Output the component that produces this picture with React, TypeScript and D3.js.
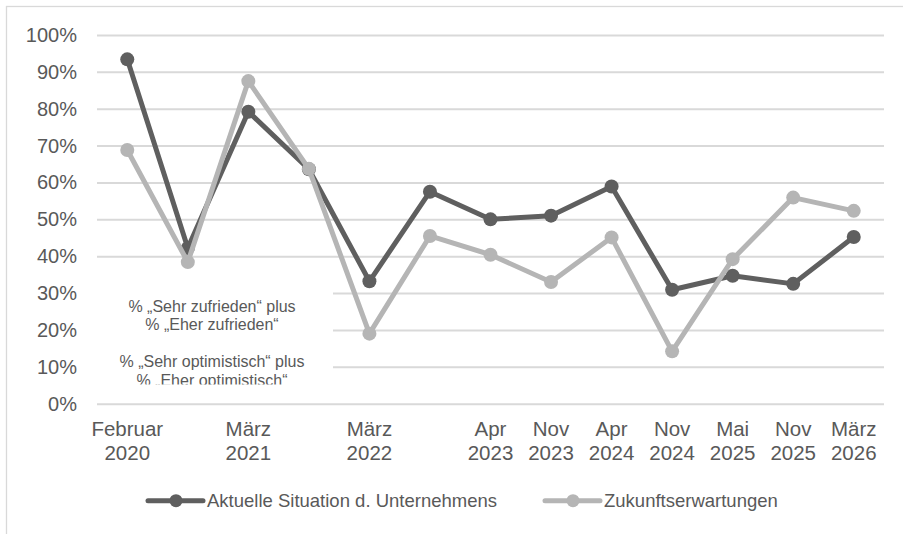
import * as d3 from "d3";
import { useRef, useEffect } from "react";

// Kategorien (Monat / Jahr), leere Einträge = ohne Beschriftung
const months = ["Februar", "", "März", "", "März", "", "Apr", "Nov", "Apr", "Nov", "Mai", "Nov", "März"];
const years = ["2020", "", "2021", "", "2022", "", "2023", "2023", "2024", "2024", "2025", "2025", "2026"];

// Werte in %
const aktuelleSituation = [93.4, 42.2, 79.2, 63.6, 33.2, 57.5, 50.0, 51.0, 58.9, 30.9, 34.7, 32.5, 45.2];
const zukunftserwartungen = [68.8, 38.4, 87.5, 63.7, 19.0, 45.5, 40.4, 33.0, 45.1, 14.2, 39.2, 55.9, 52.3];

const yTicks = [0, 10, 20, 30, 40, 50, 60, 70, 80, 90, 100];

const seriesNames = ["Aktuelle Situation d. Unternehmens", "Zukunftserwartungen"];

const noteLines = [
  "% „Sehr zufrieden“ plus",
  "% „Eher zufrieden“",
  "",
  "% „Sehr optimistisch“ plus",
  "% „Eher optimistisch“",
];

export default function App() {
  const svgRef = useRef<SVGSVGElement>(null);
  const W = 903;
  const H = 534;

  useEffect(() => {
    if (!svgRef.current) return;
    const svg = d3.select(svgRef.current);
    svg.selectAll("*").remove();

    const font = "'Liberation Sans', Arial, sans-serif";
    const textColor = "#595959";
    const gridColor = "#d9d9d9";
    const colors = ["#5f5f5f", "#b5b5b5"];

    // Rahmen
    svg
      .append("rect")
      .attr("x", 6.5)
      .attr("y", 6.5)
      .attr("width", W + 10)
      .attr("height", H + 10)
      .attr("fill", "#fff")
      .attr("stroke", gridColor)
      .attr("stroke-width", 1.3);

    const x = d3
      .scaleBand<number>()
      .domain(d3.range(months.length))
      .range([97, 884])
      .padding(0);
    const cx = (i: number) => (x(i) as number) + x.bandwidth() / 2;

    const y = d3.scaleLinear().domain([0, 100]).range([403.7, 35]);

    // Gitternetz + y-Achse
    const yAxis = svg
      .append("g")
      .attr("transform", "translate(97,0)")
      .call(
        d3
          .axisLeft(y)
          .tickValues(yTicks)
          .tickSize(-(884 - 97))
          .tickPadding(20)
          .tickFormat((d) => `${d}%`)
      );
    yAxis.select(".domain").remove();
    yAxis.selectAll(".tick line").attr("stroke", gridColor).attr("stroke-width", 2);
    yAxis
      .selectAll(".tick text")
      .attr("fill", textColor)
      .attr("font-family", font)
      .attr("font-size", 20);

    // x-Achse, zweizeilig
    const xl = svg.append("g");
    months.forEach((m, i) => {
      const t = xl
        .append("text")
        .attr("x", cx(i))
        .attr("text-anchor", "middle")
        .attr("fill", textColor)
        .attr("font-family", font)
        .attr("font-size", 20.5);
      t.append("tspan").attr("x", cx(i)).attr("y", 436).text(m);
      t.append("tspan").attr("x", cx(i)).attr("y", 460).text(years[i]);
    });

    // Textfeld (weiß hinterlegt)
    svg
      .append("rect")
      .attr("x", 86)
      .attr("y", 280)
      .attr("width", 247)
      .attr("height", 105)
      .attr("fill", "#fff");
    const clip = svg.append("defs").append("clipPath").attr("id", "note-clip");
    clip.append("rect").attr("x", 86).attr("y", 280).attr("width", 247).attr("height", 104.5);
    const note = svg.append("g").attr("clip-path", "url(#note-clip)");
    const lineY = [306, 324.5, 343, 361, 380];
    noteLines.forEach((l, i) => {
      note
        .append("text")
        .attr("x", 212)
        .attr("y", lineY[i])
        .attr("dy", "0.35em")
        .attr("text-anchor", "middle")
        .attr("fill", textColor)
        .attr("font-family", font)
        .attr("font-size", 16)
        .text(l);
    });

    // Linien
    const line = d3
      .line<number>()
      .x((_, i) => cx(i))
      .y((d) => y(d));

    [aktuelleSituation, zukunftserwartungen].forEach((data, s) => {
      const g = svg.append("g");
      g.append("path")
        .attr("d", line(data))
        .attr("fill", "none")
        .attr("stroke", colors[s])
        .attr("stroke-width", 5)
        .attr("stroke-linejoin", "round");
      g.selectAll("circle")
        .data(data)
        .enter()
        .append("circle")
        .attr("cx", (_, i) => cx(i))
        .attr("cy", (d) => y(d))
        .attr("r", 7)
        .attr("fill", colors[s]);
    });

    // Legende
    const legend = [
      { x0: 148, textX: 207 },
      { x0: 545, textX: 604 },
    ];
    legend.forEach((lg, s) => {
      const g = svg.append("g");
      g.append("line")
        .attr("x1", lg.x0)
        .attr("x2", lg.x0 + 55)
        .attr("y1", 500.7)
        .attr("y2", 500.7)
        .attr("stroke", colors[s])
        .attr("stroke-width", 5)
        .attr("stroke-linecap", "round");
      g.append("circle")
        .attr("cx", lg.x0 + 28)
        .attr("cy", 500.7)
        .attr("r", 6.5)
        .attr("fill", colors[s]);
      g.append("text")
        .attr("x", lg.textX)
        .attr("y", 507)
        .attr("fill", textColor)
        .attr("font-family", font)
        .attr("font-size", 18.5)
        .text(seriesNames[s]);
    });
  }, []);

  return (
    <div style={{ position: "absolute", left: 0, top: 0, width: W, height: H, background: "#fff" }}>
      <svg ref={svgRef} width={W} height={H} style={{ display: "block" }} />
    </div>
  );
}
